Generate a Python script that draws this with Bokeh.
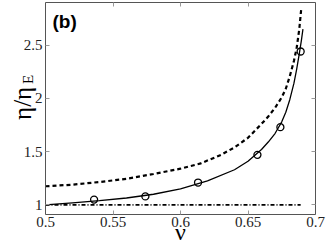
import math
from bokeh.plotting import figure
from bokeh.models import Range1d, FixedTicker, LinearAxis, Label
from bokeh.embed import file_html
from bokeh.resources import INLINE

# theory (solid)
nu_solid = [0.50, 0.52, 0.54, 0.56, 0.58, 0.60, 0.62, 0.64, 0.65, 0.66, 0.665, 0.67, 0.675, 0.678, 0.681, 0.684, 0.686, 0.688, 0.6895, 0.6907]
eta_solid = [1.00, 1.02, 1.04, 1.065, 1.10, 1.15, 1.225, 1.33, 1.41, 1.52, 1.59, 1.67, 1.78, 1.87, 1.99, 2.14, 2.27, 2.42, 2.54, 2.65]
# dashed curve
nu_dashed = [0.50, 0.52, 0.54, 0.56, 0.58, 0.60, 0.615, 0.63, 0.64, 0.65, 0.66, 0.665, 0.67, 0.675, 0.678, 0.681, 0.684, 0.686, 0.688, 0.6895]
eta_dashed = [1.175, 1.19, 1.215, 1.245, 1.29, 1.34, 1.39, 1.47, 1.54, 1.63, 1.76, 1.83, 1.91, 2.01, 2.09, 2.21, 2.35, 2.47, 2.65, 2.85]
# simulation points
nu_sim = [0.536, 0.574, 0.613, 0.657, 0.674, 0.689]
eta_sim = [1.05, 1.08, 1.21, 1.47, 1.73, 2.44]
# Enskog (dash-dot)
nu_enskog = [0.5, 0.689]
eta_enskog = [1.0, 1.0]

x_lim = (0.5, 0.7)
y_lim = (0.91, 2.90)
x_ticks = [0.5, 0.55, 0.6, 0.65, 0.7]
x_tick_labels = ["0.5", "0.55", "0.6", "0.65", "0.7"]
y_ticks = [1, 1.5, 2, 2.5]
y_tick_labels = ["1", "1.5", "2", "2.5"]

W, H = 327, 245
# plot box in canvas pixels; the canvas itself is the frame
BX0, BX1, BY0, BY1 = 45, 315, 2, 214
sx = (x_lim[1] - x_lim[0]) / (BX1 - BX0)
sy = (y_lim[1] - y_lim[0]) / (BY1 - BY0)
xr = Range1d(x_lim[0] - BX0 * sx, x_lim[1] + (W - BX1) * sx)
yr_ = Range1d(y_lim[0] - (H - BY1) * sy, y_lim[1] + BY0 * sy)

p = figure(width=W, height=H, output_backend="svg", toolbar_location=None,
           x_range=xr, y_range=yr_, min_border=0,
           x_axis_location=None, y_axis_location=None)
p.grid.visible = False
p.outline_line_color = None
p.background_fill_color = "white"
p.border_fill_color = "white"

serif = "Liberation Serif"

def style_axis(ax, ticks, labels, show, loc, bounds):
    ax.fixed_location = loc
    ax.bounds = bounds
    ax.ticker = FixedTicker(ticks=ticks)
    ax.major_label_overrides = {t: l for t, l in zip(ticks, labels)}
    ax.axis_line_color = "#555555"
    ax.axis_line_width = 1
    ax.major_tick_in = 4
    ax.major_tick_out = 0
    ax.major_tick_line_color = "#999999"
    ax.minor_tick_line_color = None
    ax.major_label_text_font = serif
    ax.major_label_text_font_size = "15px"
    ax.major_label_text_color = "#222222" if show else None
    ax.major_label_standoff = 2

xb = LinearAxis(); style_axis(xb, x_ticks, x_tick_labels, True, y_lim[0], x_lim); p.add_layout(xb, "below")
xa = LinearAxis(); style_axis(xa, x_ticks, x_tick_labels, False, y_lim[1], x_lim); p.add_layout(xa, "above")
yl = LinearAxis(); style_axis(yl, y_ticks, y_tick_labels, True, x_lim[0], y_lim); yl.major_label_standoff = 3; p.add_layout(yl, "left")
yrax = LinearAxis(); style_axis(yrax, y_ticks, y_tick_labels, False, x_lim[1], y_lim); p.add_layout(yrax, "right")

p.line(nu_enskog, eta_enskog, line_color="black", line_width=1.7, line_dash="4 2 1 2")
p.line(nu_dashed, eta_dashed, line_color="black", line_width=2.2, line_dash="4 3")
p.line(nu_solid, eta_solid, line_color="black", line_width=1.3)
p.scatter(nu_sim, eta_sim, marker="circle", size=7, fill_color=None, line_color="black", line_width=1.3)

p.add_layout(Label(x=0.4830, y=1.953, text="η/η", angle=math.pi / 2,
                   text_align="center", text_baseline="alphabetic", text_font=serif,
                   text_font_size="25px", text_color="black"))
p.add_layout(Label(x=0.4874, y=2.178, text="E", angle=math.pi / 2,
                   text_align="center", text_baseline="alphabetic", text_font=serif,
                   text_font_size="15px", text_color="black"))
p.add_layout(Label(x=0.6, y=0.625, text="ν", text_align="center",
                   text_baseline="bottom", text_font=serif, text_font_size="24px", text_color="black"))
p.add_layout(Label(x=0.5052, y=2.817, text="(b)", text_align="left", text_baseline="top",
                   text_font="Liberation Sans", text_font_style="bold", text_font_size="19px",
                   text_color="black"))

open("out.html", "w").write(file_html(p, INLINE))
